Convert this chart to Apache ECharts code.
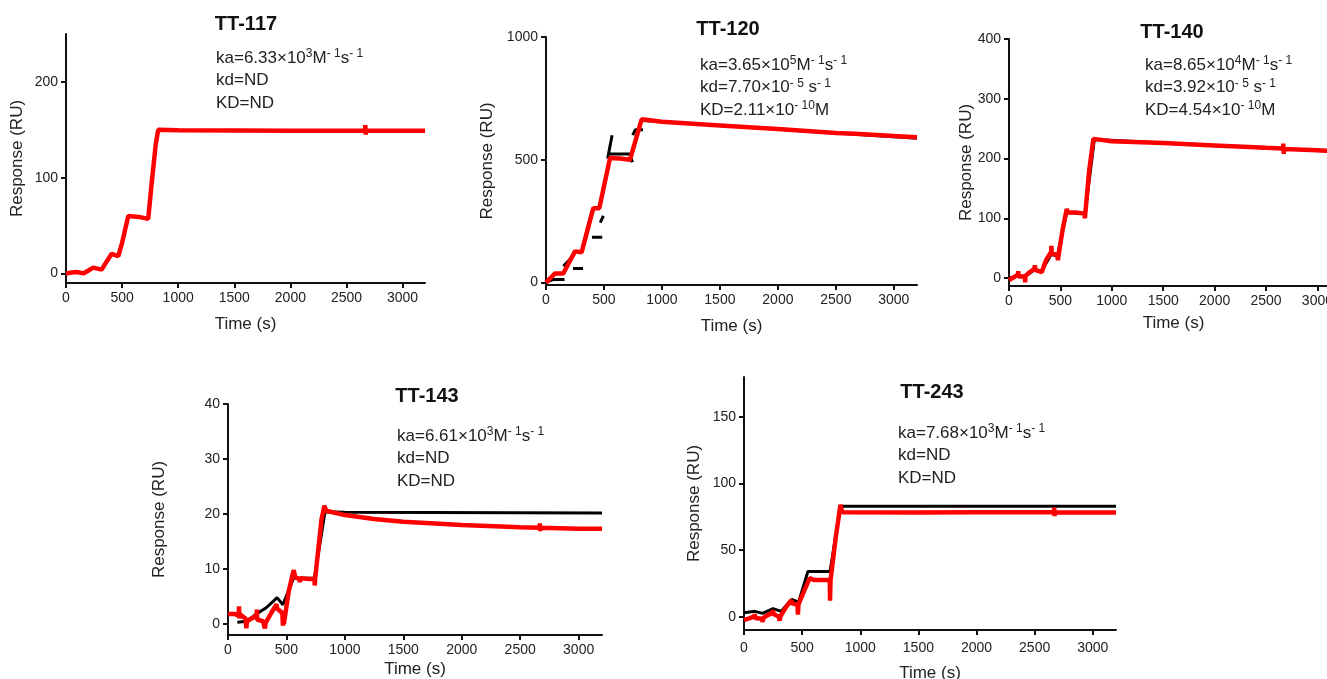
<!DOCTYPE html>
<html>
<head>
<meta charset="utf-8">
<script src="https://cdn.jsdelivr.net/npm/echarts@6/dist/echarts.min.js"></script>
<style>
html, body { margin: 0; padding: 0; background: #fff; }
#main { width: 1327px; height: 679px; }
</style>
</head>
<body>
<div id="main"></div>
<script>
// time axis ticks (s), shared by all panels
var timeTicks = [0, 500, 1000, 1500, 2000, 2500, 3000];

// TT-117
var tt117Ticks = [0, 100, 200];
var tt117Red = [[0,0],[50,1],[95,1.5],[155,0],[200,3],[243,6],[318,4],[360,12],[407,20.5],[466,18],[500,32],
  [555,60],[650,59],[733,57],[760,90],[800,135],[822,150],[1000,149.5],[2000,149],[2666,149],[2668,155],
  [2672,145],[2674,149],[3200,149]];
var tt117Fit = [];

// TT-120
var tt120Ticks = [0, 500, 1000];
var tt120Red = [[0,0],[78,37],[149,37],[250,127],[307,123],[408,303],[460,303],[552,507],[640,505],[724,500],
  [825,665],[1000,655],[1500,640],[2000,625],[2500,609],[2666,606],[2668,613],[2672,599],[2674,605],[3000,597],[3200,592]];
var tt120Fit = [
  [[0,2],[60,12],[160,12]],
  [[150,66],[233,108]],
  [[233,57],[319,57]],
  [[320,150],[397,290]],
  [[397,184],[485,184]],
  [[468,244],[495,272]],
  [[532,505],[570,600]],
  [[552,524],[724,524],[745,490]],
  [[748,600],[770,622],[836,622]],
  [[836,660],[3200,588]]
];

// TT-140 (panel is cut by the right edge of the figure)
var tt140Ticks = [0, 100, 200, 300, 400];
var tt140Red = [[0,-3],[60,3],[88,6],[90,12],[93,3],[100,5],[155,3],[157,-7],[160,4],[200,10],[250,16],[252,22],
  [255,14],[318,10],[360,30],[410,44],[412,54],[416,40],[470,40],[476,30],[482,38],[520,80],[562,116],[570,110],
  [650,110],[735,108],[738,100],[742,108],[780,180],[821,233],[830,230],[1000,229],[1500,226],[2000,222],
  [2500,218],[2666,217],[2668,225],[2672,208],[2674,216],[3000,214],[3200,212]];
var tt140Fit = [
  [[0,0],[95,4],[155,3],[250,14],[318,12],[410,40],[470,37],[562,110],[740,108],[830,232],[3200,212]]
];

// TT-143
var tt143Ticks = [0, 10, 20, 30, 40];
var tt143Red = [[0,1.8],[60,1.8],[92,1.5],[94,3.2],[97,1],[100,1.8],[150,1],[157,-0.8],[162,0.5],[200,1],
  [245,1.5],[247,2.6],[250,0.8],[300,0.5],[316,-0.8],[322,0.2],[370,2],[416,3.6],[420,2.8],[465,2],[470,-0.3],
  [473,1],[478,0],[520,6],[562,9.8],[575,8.5],[610,8.2],[615,7.6],[620,8.3],[700,8.2],[740,8.2],[742,7],
  [746,8.3],[800,19],[825,21.5],[840,20.6],[1000,19.8],[1250,19.1],[1500,18.6],[2000,18.0],[2500,17.6],
  [2666,17.5],[2668,18.3],[2672,16.9],[2674,17.5],[3000,17.3],[3200,17.3]];
var tt143Fit = [
  [[80,0.3],[160,0.5],[250,1.9],[330,3],[420,4.8],[470,3.5],[480,3.8],[560,8.3],[740,8.3],[830,20.4],[1000,20.3],[3200,20.2]]
];

// TT-243
var tt243Ticks = [0, 50, 100, 150];
var tt243Red = [[0,-2.5],[50,-1],[90,0],[92,2],[95,-1],[155,-1.5],[160,-4],[165,-1],[200,1],[248,3],[250,5],
  [253,2],[300,0],[307,-3],[312,0],[360,7],[407,12.5],[412,10],[460,9],[464,1.5],[468,9],[520,20],[565,29],
  [600,27.5],[700,27.5],[738,27.5],[740,12],[744,27],[790,60],[830,84],[845,78.5],[1500,78.3],[2000,78.5],
  [2666,78.5],[2668,82],[2672,75.5],[2674,78.5],[3200,78.3]];
var tt243Fit = [
  [[0,3],[95,4],[160,2.5],[250,6],[320,4],[410,13],[470,11],[550,34],[740,34],[830,83],[3200,83]]
];

var panels = [
  { name: 'TT-117', red: tt117Red, fit: tt117Fit, ticks: tt117Ticks, yMin: -10, yMax: 250,
    grid: { left: 66, top: 34, width: 359, bottom: 396 }, yGap: 40, xGap: 33, xMargin: 8,
    titlePos: [246, 24], textPos: [216, 58],
    lines: [['ka=6.33×10', '3', 'M', '- 1', 's', '- 1'], ['kd=ND'], ['KD=ND']] },
  { name: 'TT-120', red: tt120Red, fit: tt120Fit, ticks: tt120Ticks, yMin: -10, yMax: 1000,
    grid: { left: 546, top: 37, width: 371, bottom: 394 }, yGap: 50, xGap: 33, xMargin: 8,
    titlePos: [728, 29], textPos: [700, 65],
    lines: [['ka=3.65×10', '5', 'M', '- 1', 's', '- 1'], ['kd=7.70×10', '- 5', ' s', '- 1'], ['KD=2.11×10', '- 10', 'M']] },
  { name: 'TT-140', red: tt140Red, fit: tt140Fit, ticks: tt140Ticks, yMin: -13, yMax: 400,
    grid: { left: 1009, top: 39, width: 329, bottom: 393 }, yGap: 34, xGap: 29, xMargin: 8,
    titlePos: [1172, 32], textPos: [1145, 65],
    lines: [['ka=8.65×10', '4', 'M', '- 1', 's', '- 1'], ['kd=3.92×10', '- 5', ' s', '- 1'], ['KD=4.54×10', '- 10', 'M']] },
  { name: 'TT-143', red: tt143Red, fit: tt143Fit, ticks: tt143Ticks, yMin: -2, yMax: 40,
    grid: { left: 228, top: 404, width: 374, bottom: 44 }, yGap: 60, xGap: 26, xMargin: 8,
    titlePos: [427, 396], textPos: [397, 436],
    lines: [['ka=6.61×10', '3', 'M', '- 1', 's', '- 1'], ['kd=ND'], ['KD=ND']] },
  { name: 'TT-243', red: tt243Red, fit: tt243Fit, ticks: tt243Ticks, yMin: -10, yMax: 180,
    grid: { left: 744, top: 377, width: 372, bottom: 49 }, yGap: 41, xGap: 35, xMargin: 11,
    titlePos: [932, 392], textPos: [898, 433],
    lines: [['ka=7.68×10', '3', 'M', '- 1', 's', '- 1'], ['kd=ND'], ['KD=ND']] }
];

var FONT = 'Liberation Sans, Arial, sans-serif';
var plain = function (v) { return String(v); };
var grids = [], xAxes = [], yAxes = [], series = [], graphics = [];

panels.forEach(function (p, i) {
  var g = Object.assign({ outerBoundsMode: 'none', containLabel: false }, p.grid);
  grids.push(g);
  xAxes.push({
    type: 'value', gridIndex: i, min: 0, max: 3200,
    name: 'Time (s)', nameLocation: 'middle', nameGap: p.xGap, nameMoveOverlap: false,
    nameTextStyle: { fontFamily: FONT, fontSize: 17, color: '#222' },
    axisLine: { onZero: false, lineStyle: { color: '#111', width: 2 } },
    axisTick: { show: true, length: 5, lineStyle: { color: '#111', width: 2 }, customValues: timeTicks },
    axisLabel: { fontFamily: FONT, fontSize: 14, color: '#222', margin: p.xMargin, customValues: timeTicks, formatter: plain },
    splitLine: { show: false }
  });
  yAxes.push({
    type: 'value', gridIndex: i, min: p.yMin, max: p.yMax,
    name: 'Response (RU)', nameLocation: 'middle', nameGap: p.yGap, nameMoveOverlap: false,
    nameTextStyle: { fontFamily: FONT, fontSize: 17, color: '#222' },
    axisLine: { show: true, onZero: false, lineStyle: { color: '#111', width: 2 } },
    axisTick: { show: true, length: 5, lineStyle: { color: '#111', width: 2 }, customValues: p.ticks },
    axisLabel: { fontFamily: FONT, fontSize: 14, color: '#222', margin: 8, customValues: p.ticks, formatter: plain },
    splitLine: { show: false }
  });
  p.fit.forEach(function (seg) {
    series.push({
      type: 'line', xAxisIndex: i, yAxisIndex: i, data: seg, showSymbol: false, silent: true,
      lineStyle: { color: '#000', width: 3 }, z: 2, animation: false
    });
  });
  series.push({
    type: 'line', xAxisIndex: i, yAxisIndex: i, data: p.red, showSymbol: false, silent: true,
    lineStyle: { color: '#ff0000', width: 4.5 }, z: 3, animation: false
  });

  graphics.push({
    type: 'text', x: p.titlePos[0], y: p.titlePos[1],
    style: { text: p.name, fontFamily: FONT, fontSize: 20, fontWeight: 'bold', fill: '#111',
      align: 'center', verticalAlign: 'middle' }
  });
  p.lines.forEach(function (parts, k) {
    var txt = parts.map(function (s, j) { return (j % 2 === 0 ? '{a|' : '{b|') + s + '}'; }).join('');
    graphics.push({
      type: 'text', x: p.textPos[0], y: p.textPos[1] + k * 22.5,
      style: {
        text: txt, align: 'left', verticalAlign: 'middle',
        rich: {
          a: { fontFamily: FONT, fontSize: 17, fill: '#222', lineHeight: 20 },
          b: { fontFamily: FONT, fontSize: 12, fill: '#222', verticalAlign: 'top' }
        }
      }
    });
  });
});

var chart = echarts.init(document.getElementById('main'));
chart.setOption({
  backgroundColor: '#fff',
  animation: false,
  grid: grids,
  xAxis: xAxes,
  yAxis: yAxes,
  series: series,
  graphic: graphics
});
</script>
</body>
</html>
